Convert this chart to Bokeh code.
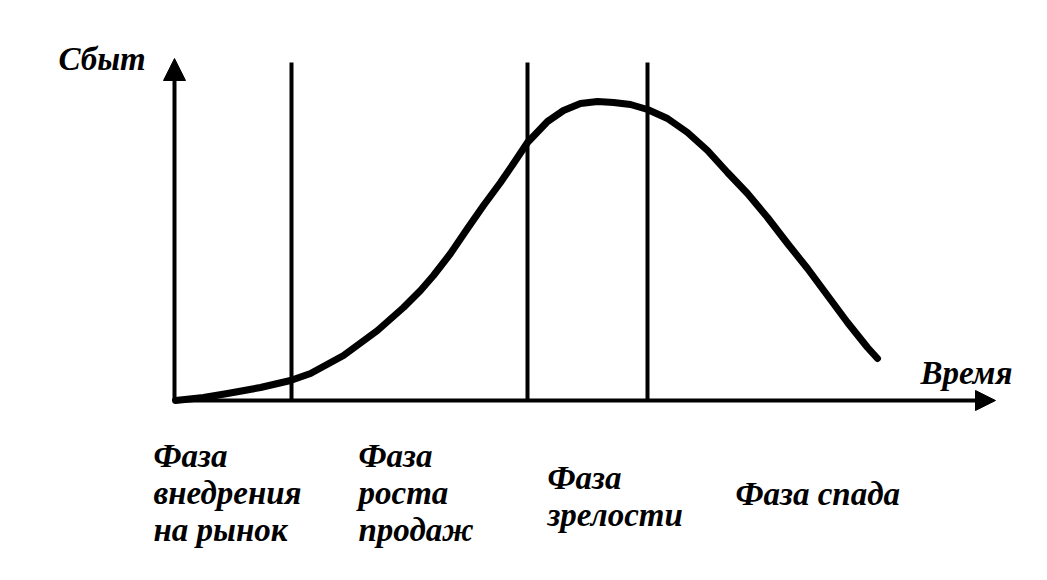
from bokeh.plotting import figure
from bokeh.models import Range1d, Arrow, NormalHead
from bokeh.core.properties import value
from bokeh.embed import file_html
from bokeh.resources import INLINE

# Product life cycle curve (time vs. sales, arbitrary units)
time = [1, 29, 53, 86, 116, 136, 169, 203, 229, 246, 259, 276, 293, 309, 326,
        339, 353, 373, 389, 406, 423, 439, 456, 473, 493, 513, 533, 553, 573,
        593, 613, 633, 653, 673, 693, 703]
sales = [0, 3, 7, 13, 20, 27, 45, 70, 93, 110, 125, 147, 172, 195, 218,
         237, 258, 279, 290, 297, 299, 298, 296, 291, 282, 268, 250, 228, 207,
         183, 157, 132, 105, 78, 53, 42]

# Phase boundaries (time)
boundaries = [117, 353, 473]

y_label = "Сбыт"
x_label = "Время"
phase_lines = [
    ["Фаза", "внедрения", "на рынок"],
    ["Фаза", "роста", "продаж"],
    ["Фаза", "зрелости"],
    ["Фаза спада"],
]

W, H = 1031, 564
p = figure(width=W, height=H, output_backend="svg", toolbar_location=None,
           x_range=Range1d(-174, 857), y_range=Range1d(-164, 400),
           min_border=0, background_fill_color="white")
p.axis.visible = False
p.grid.visible = False
p.outline_line_color = None

font = value("Liberation Serif")
FS = "33px"

# axes with arrows
p.add_layout(Arrow(end=NormalHead(size=22, fill_color="black", line_color="black", line_width=1),
                   x_start=0, y_start=0, x_end=0, y_end=342,
                   line_width=4, line_color="black"))
p.add_layout(Arrow(end=NormalHead(size=20, fill_color="black", line_color="black", line_width=1),
                   x_start=0, y_start=0, x_end=821, y_end=0,
                   line_width=4, line_color="black"))

# phase boundaries
p.segment(x0=boundaries, y0=[0] * len(boundaries), x1=boundaries,
          y1=[338] * len(boundaries), line_width=4, line_color="black")

# curve
p.line(time, sales, line_width=7, line_color="black", line_join="round", line_cap="round")

# axis labels
p.text(x=[-116], y=[342], text=[y_label], text_font=font, text_font_size=FS,
       text_font_style="bold italic", text_baseline="alphabetic", text_align="left",
       text_color="black")
p.text(x=[746], y=[28], text=[x_label], text_font=font, text_font_size=FS,
       text_font_style="bold italic", text_baseline="alphabetic", text_align="left",
       text_color="black")

# phase labels
label_x = [-21, 184, 373, 561]
label_y0 = [-55, -55, -77, -93]
step = 37
xs, ys, ts = [], [], []
for lines, lx, ly in zip(phase_lines, label_x, label_y0):
    for i, t in enumerate(lines):
        xs.append(lx)
        ys.append(ly - i * step)
        ts.append(t)
p.text(x=xs, y=ys, text=ts, text_font=font, text_font_size=FS,
       text_font_style="bold italic", text_baseline="alphabetic", text_align="left",
       text_color="black")

open("out.html", "w").write(file_html(p, INLINE))
